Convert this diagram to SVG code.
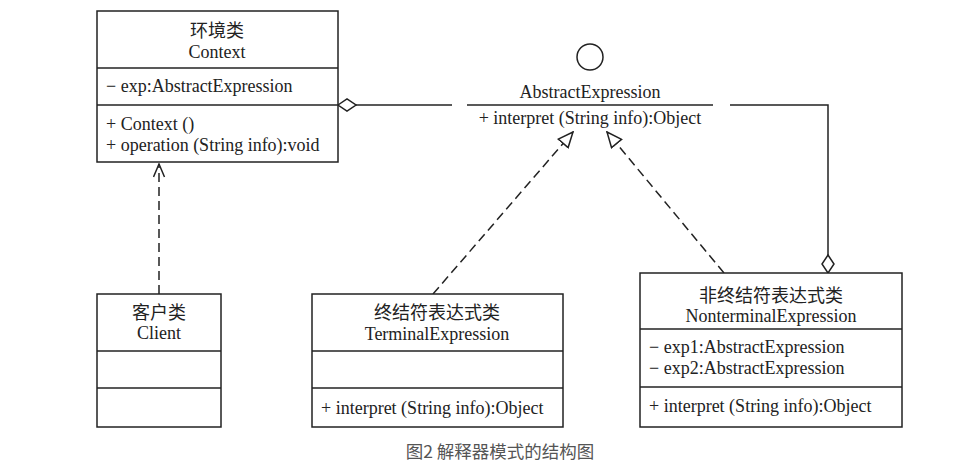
<svg xmlns="http://www.w3.org/2000/svg" width="955" height="475" viewBox="0 0 955 475">
<style>
.box{fill:#fff;stroke:#222;stroke-width:1.5}
.div{stroke:#222;stroke-width:1.5}
.t{font-family:"Liberation Serif","Noto Sans CJK SC",serif;font-size:18px;fill:#222}
.c{text-anchor:middle}
.cn{font-family:"Liberation Serif","Noto Sans CJK SC",serif;font-size:18px;fill:#222;text-anchor:middle}
.ln{fill:none;stroke:#222;stroke-width:1.5}
.dash{fill:none;stroke:#222;stroke-width:1.5;stroke-dasharray:9 5}
.cap{font-family:"Noto Sans CJK SC","Liberation Sans",sans-serif;font-size:17.5px;fill:#555;text-anchor:middle}
</style>
<defs>
<marker id="tri" markerUnits="userSpaceOnUse" viewBox="-1 -1 17 15" markerWidth="17" markerHeight="15" refX="15" refY="6.5" orient="auto">
<path d="M0,0 L15,6.5 L0,13 Z" fill="#fff" stroke="#222" stroke-width="1.5"/>
</marker>
<marker id="open" markerUnits="userSpaceOnUse" viewBox="-1 -1 15 13" markerWidth="15" markerHeight="13" refX="13" refY="5.5" orient="auto">
<path d="M0,0 L13,5.5 L0,11" fill="none" stroke="#222" stroke-width="1.5"/>
</marker>
<marker id="diaS" markerUnits="userSpaceOnUse" viewBox="-1 -1 20 14" markerWidth="20" markerHeight="14" refX="0" refY="6" orient="auto">
<path d="M0,6 L9,0 L18,6 L9,12 Z" fill="#fff" stroke="#222" stroke-width="1.5"/>
</marker>
<marker id="diaE" markerUnits="userSpaceOnUse" viewBox="-1 -1 20 14" markerWidth="20" markerHeight="14" refX="18" refY="6" orient="auto">
<path d="M0,6 L9,0 L18,6 L9,12 Z" fill="#fff" stroke="#222" stroke-width="1.5"/>
</marker>
</defs>
<rect width="955" height="475" fill="#fff"/>

<g id="connectors">
<path class="ln" d="M338,105 H452" marker-start="url(#diaS)"/>
<path class="ln" d="M730,105 H828 V273" marker-end="url(#diaE)"/>
<path class="dash" d="M159,294 V164" marker-end="url(#open)"/>
<path class="dash" d="M433,294 L573,132" marker-end="url(#tri)"/>
<path class="dash" d="M724,273 L607,132" marker-end="url(#tri)"/>
</g>

<g id="context">
<rect class="box" x="97" y="11" width="241" height="151"/>
<line class="div" x1="97" y1="68" x2="338" y2="68"/>
<line class="div" x1="97" y1="105" x2="338" y2="105"/>
<text class="cn" x="217" y="37">环境类</text>
<text class="t c" x="217" y="58">Context</text>
<text class="t" x="106" y="92">− exp:AbstractExpression</text>
<text class="t" x="106" y="130">+ Context ()</text>
<text class="t" x="106" y="151">+ operation (String info):void</text>
</g>

<g id="abstractExpression">
<circle cx="590" cy="57" r="13" fill="#fff" stroke="#222" stroke-width="1.5"/>
<text class="t c" x="590" y="98">AbstractExpression</text>
<line class="div" x1="467" y1="105" x2="713" y2="105"/>
<text class="t c" x="590" y="124">+ interpret (String info):Object</text>
</g>

<g id="client">
<rect class="box" x="97" y="294" width="124" height="133"/>
<line class="div" x1="97" y1="351" x2="221" y2="351"/>
<line class="div" x1="97" y1="388" x2="221" y2="388"/>
<text class="cn" x="159" y="319">客户类</text>
<text class="t c" x="159" y="339">Client</text>
</g>

<g id="terminalExpression">
<rect class="box" x="312" y="294" width="251" height="133"/>
<line class="div" x1="312" y1="351" x2="563" y2="351"/>
<line class="div" x1="312" y1="388" x2="563" y2="388"/>
<text class="cn" x="437" y="319">终结符表达式类</text>
<text class="t c" x="437" y="340">TerminalExpression</text>
<text class="t" x="321" y="414">+ interpret (String info):Object</text>
</g>

<g id="nonterminalExpression">
<rect class="box" x="640" y="273" width="262" height="154"/>
<line class="div" x1="640" y1="329" x2="902" y2="329"/>
<line class="div" x1="640" y1="387" x2="902" y2="387"/>
<text class="cn" x="771" y="302">非终结符表达式类</text>
<text class="t c" x="771" y="322">NonterminalExpression</text>
<text class="t" x="649" y="353">− exp1:AbstractExpression</text>
<text class="t" x="649" y="374">− exp2:AbstractExpression</text>
<text class="t" x="649" y="412">+ interpret (String info):Object</text>
</g>

<text class="cap" x="500" y="458">图2 解释器模式的结构图</text>
</svg>
